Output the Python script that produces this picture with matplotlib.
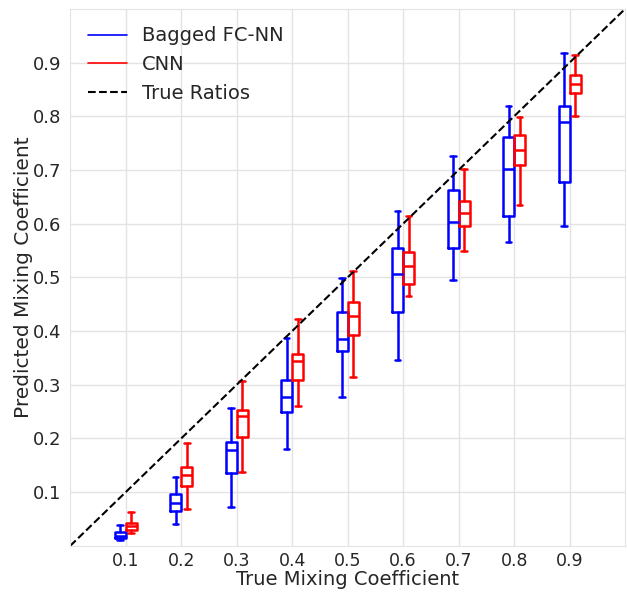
import numpy as np
import matplotlib
matplotlib.use("Agg")
import matplotlib.pyplot as plt
import seaborn as sns
from matplotlib.lines import Line2D

sns.set_style("whitegrid")
plt.rcParams['font.family'] = ['DejaVu Sans']

true_ratios = [0.1, 0.2, 0.3, 0.4, 0.5, 0.6, 0.7, 0.8, 0.9]

# Bagged FC-NN box stats
fc_whislo = [0.011, 0.040, 0.072, 0.180, 0.278, 0.346, 0.495, 0.566, 0.595]
fc_q1 = [0.014, 0.065, 0.135, 0.249, 0.362, 0.436, 0.555, 0.615, 0.677]
fc_med = [0.018, 0.080, 0.178, 0.277, 0.386, 0.506, 0.604, 0.701, 0.790]
fc_q3 = [0.025, 0.096, 0.194, 0.308, 0.435, 0.554, 0.663, 0.762, 0.820]
fc_whishi = [0.038, 0.128, 0.256, 0.387, 0.499, 0.623, 0.726, 0.820, 0.917]

# CNN box stats
cnn_whislo = [0.023, 0.069, 0.138, 0.261, 0.315, 0.466, 0.550, 0.634, 0.801]
cnn_q1 = [0.029, 0.112, 0.203, 0.308, 0.393, 0.487, 0.595, 0.710, 0.843]
cnn_med = [0.037, 0.132, 0.242, 0.345, 0.428, 0.521, 0.619, 0.738, 0.860]
cnn_q3 = [0.043, 0.146, 0.253, 0.357, 0.455, 0.548, 0.643, 0.766, 0.877]
cnn_whishi = [0.063, 0.191, 0.307, 0.422, 0.511, 0.614, 0.702, 0.799, 0.914]


def make_stats(lo, q1, med, q3, hi):
    return [
        {"whislo": a, "q1": b, "med": c, "q3": d, "whishi": e, "fliers": []}
        for a, b, c, d, e in zip(lo, q1, med, q3, hi)
    ]


fig = plt.figure(figsize=(6.27, 5.92), dpi=100)
ax = fig.add_axes([0.112, 0.078, 0.885, 0.907])

x = np.array(true_ratios)


def draw(stats, pos, color):
    props = dict(color=color, linewidth=1.8)
    ax.bxp(
        stats,
        positions=pos,
        widths=0.02,
        showfliers=False,
        boxprops=props,
        whiskerprops=props,
        capprops=props,
        medianprops=props,
        manage_ticks=False,
        capwidths=0.01,
    )


draw(make_stats(fc_whislo, fc_q1, fc_med, fc_q3, fc_whishi), x - 0.01, "blue")
draw(make_stats(cnn_whislo, cnn_q1, cnn_med, cnn_q3, cnn_whishi), x + 0.01, "red")

ax.plot([0, 1], [0, 1], "k--", linewidth=1.5)

ax.set_xlim(0, 1)
ax.set_ylim(0, 1)
ax.set_xticks(true_ratios)
ax.set_yticks(true_ratios)
ax.set_xticklabels([f"{v:.1f}" for v in true_ratios])
ax.set_yticklabels([f"{v:.1f}" for v in true_ratios])
ax.tick_params(labelsize=13, colors="#262626", pad=3)
ax.tick_params(axis="x", labelsize=12.5, pad=1)
ax.grid(color="#e3e3e3", linewidth=1)
for sp in ax.spines.values():
    sp.set_color("#e3e3e3")

ax.set_xlabel("True Mixing Coefficient", fontsize=14, color="#262626", labelpad=0)
ax.set_ylabel("Predicted Mixing Coefficient", fontsize=14.5, color="#262626", labelpad=0)

handles = [
    Line2D([], [], color="blue", linewidth=1.2),
    Line2D([], [], color="red", linewidth=1.2),
    Line2D([], [], color="black", linestyle="--", linewidth=1.5),
]
ax.legend(handles, ["Bagged FC-NN", "CNN", "True Ratios"],
          loc="upper left", fontsize=14, frameon=False)

fig.savefig("out.png", dpi=100)
